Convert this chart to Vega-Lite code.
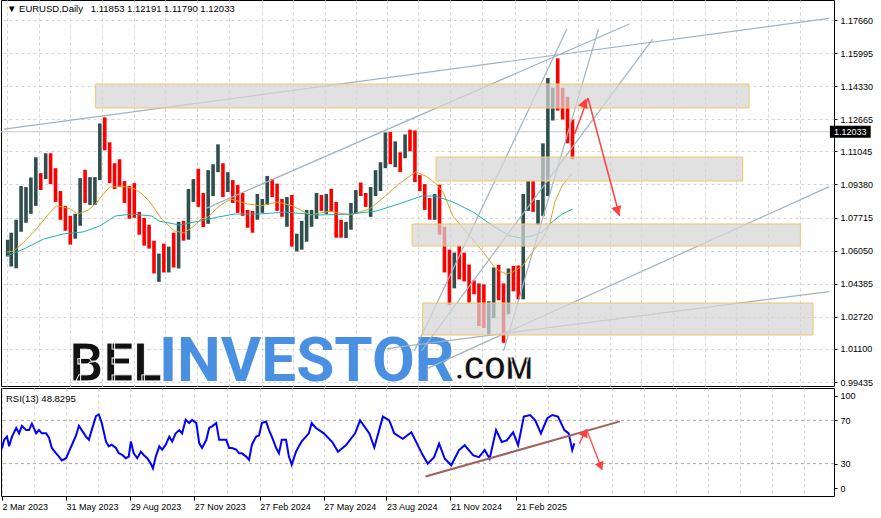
{
"$schema":"https://vega.github.io/schema/vega-lite/v6.json",
"background":"white",
"padding":{"left":-3,"top":-1,"right":0,"bottom":0},
"bounds":"flush",
"spacing":2,
"config":{"view":{"stroke":"#000000","strokeWidth":1},"axis":{"labelFont":"Liberation Sans","labelFontSize":9,"labelColor":"#000000","tickColor":"#000000","domainColor":"#000000","labelOverlap":false,"tickCount":60}},
"datasets":{
"one":[{}],
"candles":[
{"date":"2023-03-03","open":1.0600,"high":1.0660,"low":1.0575,"close":1.0635},
{"date":"2023-03-08","open":1.0635,"high":1.0695,"low":1.0525,"close":1.0640},
{"date":"2023-03-15","open":1.0650,"high":1.0760,"low":1.0516,"close":1.0670},
{"date":"2023-03-22","open":1.0715,"high":1.0930,"low":1.0700,"close":1.0760},
{"date":"2023-03-29","open":1.0760,"high":1.0925,"low":1.0745,"close":1.0840},
{"date":"2023-04-05","open":1.0840,"high":1.0973,"low":1.0790,"close":1.0900},
{"date":"2023-04-12","open":1.0900,"high":1.1075,"low":1.0830,"close":1.0990},
{"date":"2023-04-19","open":1.0990,"high":1.0995,"low":1.0910,"close":1.0985},
{"date":"2023-04-26","open":1.0985,"high":1.1095,"low":1.0965,"close":1.1020},
{"date":"2023-05-03","open":1.1020,"high":1.1095,"low":1.0940,"close":1.1018},
{"date":"2023-05-10","open":1.1018,"high":1.1020,"low":1.0850,"close":1.0850},
{"date":"2023-05-17","open":1.0850,"high":1.0905,"low":1.0760,"close":1.0805},
{"date":"2023-05-24","open":1.0805,"high":1.0830,"low":1.0705,"close":1.0720},
{"date":"2023-05-31","open":1.0720,"high":1.0780,"low":1.0635,"close":1.0710},
{"date":"2023-06-07","open":1.0710,"high":1.0790,"low":1.0665,"close":1.0750},
{"date":"2023-06-14","open":1.0750,"high":1.0970,"low":1.0730,"close":1.0940},
{"date":"2023-06-21","open":1.0940,"high":1.1012,"low":1.0845,"close":1.0895},
{"date":"2023-06-28","open":1.0895,"high":1.0975,"low":1.0835,"close":1.0910},
{"date":"2023-07-05","open":1.0910,"high":1.0975,"low":1.0835,"close":1.0965},
{"date":"2023-07-12","open":1.0965,"high":1.1245,"low":1.0960,"close":1.1230},
{"date":"2023-07-19","open":1.1230,"high":1.1276,"low":1.1110,"close":1.1125},
{"date":"2023-07-26","open":1.1125,"high":1.1150,"low":1.0945,"close":1.1015},
{"date":"2023-08-02","open":1.1015,"high":1.1045,"low":1.0915,"close":1.1005},
{"date":"2023-08-09","open":1.1005,"high":1.1065,"low":1.0925,"close":1.0945},
{"date":"2023-08-16","open":1.0945,"high":1.0955,"low":1.0845,"close":1.0870},
{"date":"2023-08-23","open":1.0870,"high":1.0930,"low":1.0765,"close":1.0795},
{"date":"2023-08-30","open":1.0795,"high":1.0945,"low":1.0770,"close":1.0775},
{"date":"2023-09-06","open":1.0775,"high":1.0800,"low":1.0685,"close":1.0700},
{"date":"2023-09-13","open":1.0700,"high":1.0770,"low":1.0630,"close":1.0660},
{"date":"2023-09-20","open":1.0660,"high":1.0735,"low":1.0615,"close":1.0650},
{"date":"2023-09-27","open":1.0650,"high":1.0655,"low":1.0490,"close":1.0570},
{"date":"2023-10-04","open":1.0570,"high":1.0590,"low":1.0448,"close":1.0585},
{"date":"2023-10-11","open":1.0585,"high":1.0640,"low":1.0495,"close":1.0510},
{"date":"2023-10-18","open":1.0510,"high":1.0625,"low":1.0495,"close":1.0595},
{"date":"2023-10-25","open":1.0595,"high":1.0695,"low":1.0520,"close":1.0565},
{"date":"2023-11-01","open":1.0565,"high":1.0750,"low":1.0515,"close":1.0730},
{"date":"2023-11-08","open":1.0730,"high":1.0755,"low":1.0655,"close":1.0685},
{"date":"2023-11-15","open":1.0685,"high":1.0915,"low":1.0660,"close":1.0910},
{"date":"2023-11-22","open":1.0910,"high":1.0965,"low":1.0850,"close":1.0940},
{"date":"2023-11-29","open":1.0940,"high":1.1017,"low":1.0825,"close":1.0835},
{"date":"2023-12-06","open":1.0835,"high":1.0895,"low":1.0724,"close":1.0760},
{"date":"2023-12-13","open":1.0760,"high":1.1010,"low":1.0740,"close":1.0895},
{"date":"2023-12-20","open":1.0895,"high":1.1040,"low":1.0880,"close":1.1010},
{"date":"2023-12-27","open":1.1010,"high":1.1140,"low":1.1000,"close":1.1040},
{"date":"2024-01-03","open":1.1040,"high":1.1045,"low":1.0875,"close":1.0940},
{"date":"2024-01-10","open":1.0940,"high":1.1000,"low":1.0900,"close":1.0950},
{"date":"2024-01-17","open":1.0950,"high":1.0960,"low":1.0845,"close":1.0895},
{"date":"2024-01-24","open":1.0895,"high":1.0935,"low":1.0795,"close":1.0850},
{"date":"2024-01-31","open":1.0850,"high":1.0895,"low":1.0780,"close":1.0785},
{"date":"2024-02-07","open":1.0785,"high":1.0810,"low":1.0720,"close":1.0783},
{"date":"2024-02-14","open":1.0783,"high":1.0805,"low":1.0695,"close":1.0775},
{"date":"2024-02-21","open":1.0775,"high":1.0890,"low":1.0760,"close":1.0820},
{"date":"2024-02-28","open":1.0820,"high":1.0865,"low":1.0795,"close":1.0840},
{"date":"2024-03-06","open":1.0840,"high":1.0981,"low":1.0835,"close":1.0940},
{"date":"2024-03-13","open":1.0940,"high":1.0965,"low":1.0875,"close":1.0890},
{"date":"2024-03-20","open":1.0890,"high":1.0942,"low":1.0805,"close":1.0810},
{"date":"2024-03-27","open":1.0810,"high":1.0865,"low":1.0775,"close":1.0790},
{"date":"2024-04-03","open":1.0790,"high":1.0875,"low":1.0725,"close":1.0835},
{"date":"2024-04-10","open":1.0835,"high":1.0885,"low":1.0625,"close":1.0645},
{"date":"2024-04-17","open":1.0645,"high":1.0690,"low":1.0601,"close":1.0655},
{"date":"2024-04-24","open":1.0655,"high":1.0755,"low":1.0610,"close":1.0690},
{"date":"2024-05-01","open":1.0690,"high":1.0810,"low":1.0650,"close":1.0760},
{"date":"2024-05-08","open":1.0760,"high":1.0810,"low":1.0725,"close":1.0770},
{"date":"2024-05-15","open":1.0770,"high":1.0895,"low":1.0765,"close":1.0870},
{"date":"2024-05-22","open":1.0870,"high":1.0885,"low":1.0805,"close":1.0845},
{"date":"2024-05-29","open":1.0845,"high":1.0890,"low":1.0790,"close":1.0850},
{"date":"2024-06-05","open":1.0850,"high":1.0916,"low":1.0800,"close":1.0800},
{"date":"2024-06-12","open":1.0800,"high":1.0850,"low":1.0670,"close":1.0700},
{"date":"2024-06-19","open":1.0700,"high":1.0760,"low":1.0670,"close":1.0690},
{"date":"2024-06-26","open":1.0690,"high":1.0750,"low":1.0668,"close":1.0715},
{"date":"2024-07-03","open":1.0715,"high":1.0845,"low":1.0710,"close":1.0840},
{"date":"2024-07-10","open":1.0840,"high":1.0910,"low":1.0790,"close":1.0905},
{"date":"2024-07-17","open":1.0905,"high":1.0948,"low":1.0880,"close":1.0885},
{"date":"2024-07-24","open":1.0885,"high":1.0895,"low":1.0825,"close":1.0855},
{"date":"2024-07-31","open":1.0855,"high":1.0925,"low":1.0775,"close":1.0910},
{"date":"2024-08-07","open":1.0910,"high":1.1010,"low":1.0880,"close":1.0915},
{"date":"2024-08-14","open":1.0915,"high":1.1050,"low":1.0905,"close":1.1025},
{"date":"2024-08-21","open":1.1025,"high":1.1200,"low":1.1020,"close":1.1190},
{"date":"2024-08-28","open":1.1190,"high":1.1202,"low":1.1040,"close":1.1050},
{"date":"2024-09-04","open":1.1050,"high":1.1155,"low":1.1025,"close":1.1085},
{"date":"2024-09-11","open":1.1085,"high":1.1100,"low":1.1000,"close":1.1075},
{"date":"2024-09-18","open":1.1075,"high":1.1190,"low":1.1070,"close":1.1165},
{"date":"2024-09-25","open":1.1165,"high":1.1214,"low":1.1105,"close":1.1163},
{"date":"2024-10-02","open":1.1163,"high":1.1210,"low":1.0950,"close":1.0975},
{"date":"2024-10-09","open":1.0975,"high":1.0985,"low":1.0905,"close":1.0935},
{"date":"2024-10-16","open":1.0935,"high":1.0940,"low":1.0810,"close":1.0865},
{"date":"2024-10-23","open":1.0865,"high":1.0870,"low":1.0761,"close":1.0795},
{"date":"2024-10-30","open":1.0795,"high":1.0890,"low":1.0760,"close":1.0835},
{"date":"2024-11-06","open":1.0835,"high":1.0937,"low":1.0685,"close":1.0720},
{"date":"2024-11-13","open":1.0720,"high":1.0725,"low":1.0495,"close":1.0540},
{"date":"2024-11-20","open":1.0540,"high":1.0610,"low":1.0332,"close":1.0420},
{"date":"2024-11-27","open":1.0420,"high":1.0595,"low":1.0415,"close":1.0575},
{"date":"2024-12-04","open":1.0575,"high":1.0630,"low":1.0460,"close":1.0565},
{"date":"2024-12-11","open":1.0565,"high":1.0595,"low":1.0450,"close":1.0500},
{"date":"2024-12-18","open":1.0500,"high":1.0535,"low":1.0343,"close":1.0430},
{"date":"2024-12-25","open":1.0430,"high":1.0455,"low":1.0385,"close":1.0425},
{"date":"2025-01-01","open":1.0425,"high":1.0440,"low":1.0225,"close":1.0310},
{"date":"2025-01-08","open":1.0310,"high":1.0435,"low":1.0215,"close":1.0245},
{"date":"2025-01-15","open":1.0245,"high":1.0350,"low":1.0178,"close":1.0275},
{"date":"2025-01-22","open":1.0275,"high":1.0520,"low":1.0265,"close":1.0495},
{"date":"2025-01-29","open":1.0495,"high":1.0533,"low":1.0355,"close":1.0360},
{"date":"2025-02-05","open":1.0360,"high":1.0440,"low":1.0141,"close":1.0330},
{"date":"2025-02-12","open":1.0330,"high":1.0515,"low":1.0285,"close":1.0495},
{"date":"2025-02-19","open":1.0495,"high":1.0528,"low":1.0400,"close":1.0460},
{"date":"2025-02-26","open":1.0460,"high":1.0530,"low":1.0360,"close":1.0375},
{"date":"2025-03-05","open":1.0375,"high":1.0890,"low":1.0360,"close":1.0830},
{"date":"2025-03-12","open":1.0830,"high":1.0955,"low":1.0805,"close":1.0880},
{"date":"2025-03-19","open":1.0880,"high":1.0955,"low":1.0800,"close":1.0815},
{"date":"2025-03-26","open":1.0815,"high":1.0860,"low":1.0733,"close":1.0820},
{"date":"2025-04-02","open":1.0820,"high":1.1145,"low":1.0780,"close":1.0960},
{"date":"2025-04-09","open":1.0960,"high":1.1474,"low":1.0880,"close":1.1360},
{"date":"2025-04-16","open":1.1360,"high":1.1425,"low":1.1260,"close":1.1390},
{"date":"2025-04-23","open":1.1390,"high":1.1573,"low":1.1310,"close":1.1365},
{"date":"2025-04-30","open":1.1365,"high":1.1425,"low":1.1265,"close":1.1300},
{"date":"2025-05-07","open":1.1300,"high":1.1380,"low":1.1145,"close":1.1250},
{"date":"2025-05-14","open":1.1250,"high":1.1265,"low":1.1065,"close":1.1203}
],
"ma":[
{"series":"fast","date":"2023-03-02","value":1.0598},{"series":"fast","date":"2023-03-12","value":1.0603},{"series":"fast","date":"2023-03-26","value":1.0648},{"series":"fast","date":"2023-04-13","value":1.0714},{"series":"fast","date":"2023-04-30","value":1.0789},{"series":"fast","date":"2023-05-11","value":1.0830},{"series":"fast","date":"2023-05-21","value":1.0825},{"series":"fast","date":"2023-05-31","value":1.0814},{"series":"fast","date":"2023-06-11","value":1.0789},{"series":"fast","date":"2023-06-25","value":1.0809},{"series":"fast","date":"2023-07-06","value":1.0840},{"series":"fast","date":"2023-07-16","value":1.0885},{"series":"fast","date":"2023-07-26","value":1.0925},{"series":"fast","date":"2023-08-13","value":1.0930},{"series":"fast","date":"2023-08-31","value":1.0915},{"series":"fast","date":"2023-09-10","value":1.0890},{"series":"fast","date":"2023-09-20","value":1.0855},{"series":"fast","date":"2023-10-08","value":1.0764},{"series":"fast","date":"2023-10-26","value":1.0704},{"series":"fast","date":"2023-11-09","value":1.0694},{"series":"fast","date":"2023-11-23","value":1.0729},{"series":"fast","date":"2023-12-03","value":1.0764},{"series":"fast","date":"2023-12-13","value":1.0774},{"series":"fast","date":"2023-12-27","value":1.0825},{"series":"fast","date":"2024-01-14","value":1.0865},{"series":"fast","date":"2024-02-07","value":1.0840},{"series":"fast","date":"2024-02-26","value":1.0830},{"series":"fast","date":"2024-03-20","value":1.0850},{"series":"fast","date":"2024-04-11","value":1.0830},{"series":"fast","date":"2024-05-06","value":1.0784},{"series":"fast","date":"2024-06-03","value":1.0804},{"series":"fast","date":"2024-07-01","value":1.0784},{"series":"fast","date":"2024-07-29","value":1.0814},{"series":"fast","date":"2024-08-16","value":1.0865},{"series":"fast","date":"2024-09-09","value":1.0940},{"series":"fast","date":"2024-10-03","value":1.1001},{"series":"fast","date":"2024-10-17","value":1.0981},{"series":"fast","date":"2024-10-31","value":1.0945},{"series":"fast","date":"2024-11-11","value":1.0900},{"series":"fast","date":"2024-11-25","value":1.0779},{"series":"fast","date":"2024-12-14","value":1.0699},{"series":"fast","date":"2025-01-07","value":1.0598},{"series":"fast","date":"2025-01-25","value":1.0513},{"series":"fast","date":"2025-02-08","value":1.0487},{"series":"fast","date":"2025-02-18","value":1.0497},{"series":"fast","date":"2025-03-04","value":1.0528},{"series":"fast","date":"2025-03-18","value":1.0598},{"series":"fast","date":"2025-04-01","value":1.0663},{"series":"fast","date":"2025-04-11","value":1.0729},{"series":"fast","date":"2025-04-19","value":1.0850},{"series":"fast","date":"2025-04-29","value":1.0930},{"series":"fast","date":"2025-05-09","value":1.0976},{"series":"fast","date":"2025-05-14","value":1.0991},
{"series":"slow","date":"2023-03-02","value":1.0578},{"series":"slow","date":"2023-03-26","value":1.0613},{"series":"slow","date":"2023-04-23","value":1.0663},{"series":"slow","date":"2023-05-21","value":1.0689},{"series":"slow","date":"2023-06-18","value":1.0699},{"series":"slow","date":"2023-07-12","value":1.0729},{"series":"slow","date":"2023-08-03","value":1.0779},{"series":"slow","date":"2023-08-27","value":1.0789},{"series":"slow","date":"2023-09-24","value":1.0779},{"series":"slow","date":"2023-10-04","value":1.0754},{"series":"slow","date":"2023-11-02","value":1.0734},{"series":"slow","date":"2023-12-01","value":1.0754},{"series":"slow","date":"2023-12-27","value":1.0774},{"series":"slow","date":"2024-01-19","value":1.0789},{"series":"slow","date":"2024-02-23","value":1.0789},{"series":"slow","date":"2024-04-01","value":1.0799},{"series":"slow","date":"2024-05-16","value":1.0784},{"series":"slow","date":"2024-07-01","value":1.0789},{"series":"slow","date":"2024-08-08","value":1.0804},{"series":"slow","date":"2024-09-09","value":1.0840},{"series":"slow","date":"2024-10-12","value":1.0880},{"series":"slow","date":"2024-10-31","value":1.0880},{"series":"slow","date":"2024-11-25","value":1.0850},{"series":"slow","date":"2024-12-24","value":1.0799},{"series":"slow","date":"2025-01-21","value":1.0729},{"series":"slow","date":"2025-02-14","value":1.0679},{"series":"slow","date":"2025-03-01","value":1.0669},{"series":"slow","date":"2025-03-18","value":1.0679},{"series":"slow","date":"2025-04-01","value":1.0699},{"series":"slow","date":"2025-04-15","value":1.0749},{"series":"slow","date":"2025-04-29","value":1.0789},{"series":"slow","date":"2025-05-14","value":1.0814}
],
"zones":[
{"start":"2023-07-06","end":"2026-01-20","top":1.14438,"bottom":1.13230},
{"start":"2024-11-01","end":"2026-01-11","top":1.10763,"bottom":1.09554},
{"start":"2024-09-28","end":"2026-04-03","top":1.07390,"bottom":1.06282},
{"start":"2024-10-13","end":"2026-04-21","top":1.03412,"bottom":1.01801}
],
"trendlines":[
{"date":"2023-02-26","price":1.1217,"date2":"2026-05-14","price2":1.1774},
{"date":"2023-12-11","price":1.0819,"date2":"2025-08-03","price2":1.1746},
{"date":"2024-08-23","price":1.0112,"date2":"2026-05-14","price2":1.0399},
{"date":"2024-10-19","price":1.0011,"date2":"2026-05-14","price2":1.0927},
{"date":"2024-10-01","price":1.0100,"date2":"2025-05-06","price2":1.1721},
{"date":"2025-02-05","price":1.0100,"date2":"2025-06-20","price2":1.1721},
{"date":"2024-10-11","price":1.0100,"date2":"2025-09-05","price2":1.1670}
],
"arrows":[
{"date":"2025-05-17","price":1.1192,"date2":"2025-06-05","price2":1.1373},
{"date":"2025-06-05","price":1.1373,"date2":"2025-07-20","price2":1.0779}
],
"rsi":[
{"date":"2023-03-02","value":44},{"date":"2023-03-05","value":52},{"date":"2023-03-09","value":55},{"date":"2023-03-12","value":46},{"date":"2023-03-16","value":55},{"date":"2023-03-22","value":63},{"date":"2023-03-26","value":58},{"date":"2023-03-30","value":65},{"date":"2023-04-05","value":61},{"date":"2023-04-09","value":61},{"date":"2023-04-13","value":67},{"date":"2023-04-19","value":58},{"date":"2023-04-23","value":61},{"date":"2023-04-27","value":58},{"date":"2023-05-03","value":58},{"date":"2023-05-07","value":54},{"date":"2023-05-11","value":44.5},{"date":"2023-05-17","value":39.5},{"date":"2023-05-21","value":36.5},{"date":"2023-05-25","value":33},{"date":"2023-05-31","value":35},{"date":"2023-06-04","value":41},{"date":"2023-06-08","value":47},{"date":"2023-06-14","value":56},{"date":"2023-06-18","value":65},{"date":"2023-06-22","value":61},{"date":"2023-06-28","value":55},{"date":"2023-07-02","value":52},{"date":"2023-07-06","value":61},{"date":"2023-07-12","value":74},{"date":"2023-07-16","value":75.5},{"date":"2023-07-20","value":68},{"date":"2023-07-26","value":50.5},{"date":"2023-07-30","value":46},{"date":"2023-08-03","value":47.5},{"date":"2023-08-09","value":44.5},{"date":"2023-08-13","value":39.5},{"date":"2023-08-18","value":38},{"date":"2023-08-23","value":35},{"date":"2023-08-27","value":36.5},{"date":"2023-08-30","value":50.5},{"date":"2023-09-03","value":39.5},{"date":"2023-09-08","value":35},{"date":"2023-09-13","value":41},{"date":"2023-09-17","value":38},{"date":"2023-09-22","value":35},{"date":"2023-09-27","value":30},{"date":"2023-09-30","value":25.5},{"date":"2023-10-04","value":36.5},{"date":"2023-10-09","value":46},{"date":"2023-10-13","value":43},{"date":"2023-10-18","value":47.5},{"date":"2023-10-23","value":55},{"date":"2023-10-27","value":50.5},{"date":"2023-11-01","value":58},{"date":"2023-11-06","value":61},{"date":"2023-11-10","value":58},{"date":"2023-11-15","value":70.5},{"date":"2023-11-20","value":67.5},{"date":"2023-11-24","value":70.5},{"date":"2023-11-30","value":67.5},{"date":"2023-12-04","value":49},{"date":"2023-12-08","value":44.5},{"date":"2023-12-14","value":52},{"date":"2023-12-18","value":63},{"date":"2023-12-22","value":64.5},{"date":"2023-12-28","value":67.5},{"date":"2024-01-01","value":52},{"date":"2024-01-05","value":52},{"date":"2024-01-11","value":52},{"date":"2024-01-15","value":44.5},{"date":"2024-01-19","value":44.5},{"date":"2024-01-25","value":43},{"date":"2024-01-29","value":39.5},{"date":"2024-02-02","value":39.5},{"date":"2024-02-08","value":36.5},{"date":"2024-02-12","value":33.5},{"date":"2024-02-16","value":47.5},{"date":"2024-02-22","value":55},{"date":"2024-02-26","value":56},{"date":"2024-03-01","value":67.5},{"date":"2024-03-07","value":69},{"date":"2024-03-11","value":61},{"date":"2024-03-15","value":55},{"date":"2024-03-21","value":44.5},{"date":"2024-03-25","value":39.5},{"date":"2024-03-29","value":52},{"date":"2024-04-04","value":52},{"date":"2024-04-08","value":36.5},{"date":"2024-04-12","value":29},{"date":"2024-04-18","value":41},{"date":"2024-04-22","value":46},{"date":"2024-04-26","value":50.5},{"date":"2024-05-02","value":55},{"date":"2024-05-06","value":58},{"date":"2024-05-10","value":67.5},{"date":"2024-05-16","value":63},{"date":"2024-05-27","value":58},{"date":"2024-06-08","value":50},{"date":"2024-06-16","value":41},{"date":"2024-06-27","value":47},{"date":"2024-07-10","value":58},{"date":"2024-07-17","value":70},{"date":"2024-07-30","value":58},{"date":"2024-08-06","value":45},{"date":"2024-08-18","value":73.5},{"date":"2024-08-27","value":70},{"date":"2024-09-03","value":58},{"date":"2024-09-15","value":53},{"date":"2024-09-27","value":59},{"date":"2024-10-05","value":48.5},{"date":"2024-10-12","value":39},{"date":"2024-10-20","value":30},{"date":"2024-10-29","value":36},{"date":"2024-11-05","value":48.5},{"date":"2024-11-13","value":34.5},{"date":"2024-11-22","value":28.5},{"date":"2024-12-03","value":42.5},{"date":"2024-12-11","value":47},{"date":"2024-12-23","value":37.6},{"date":"2024-12-31","value":36},{"date":"2025-01-08","value":42.5},{"date":"2025-01-15","value":34.5},{"date":"2025-01-24","value":61},{"date":"2025-02-01","value":50},{"date":"2025-02-08","value":51.5},{"date":"2025-02-17","value":59},{"date":"2025-02-24","value":47},{"date":"2025-03-04","value":73.5},{"date":"2025-03-13","value":75},{"date":"2025-03-20","value":70},{"date":"2025-03-28","value":58},{"date":"2025-04-06","value":72},{"date":"2025-04-13","value":75},{"date":"2025-04-21","value":73.5},{"date":"2025-04-30","value":61},{"date":"2025-05-06","value":58},{"date":"2025-05-11","value":42.5},{"date":"2025-05-14","value":48.8}
],
"rsiline":[{"date":"2024-10-17","value":18,"date2":"2025-07-17","value2":69.1}],
"rsiarrows":[
{"date":"2025-05-21","value":48.6,"date2":"2025-05-31","value2":61.7},
{"date":"2025-05-31","value":61.7,"date2":"2025-06-22","value2":24.3}
]
},
"vconcat":[
{
"width":833,"height":386,
"layer":[
{"data":{"name":"one"},
 "mark":{"type":"rule","color":"#C8C8C8","strokeWidth":1},
 "encoding":{"y":{"datum":1.12033,"type":"quantitative","scale":{"domain":[0.99234,1.18667],"zero":false,"nice":false}}}},
{"data":{"name":"one"},
 "mark":{"type":"text","text":"INVESTOR","font":"Liberation Sans Narrow, Roboto","fontWeight":"bold","fontSize":62,"color":"#4A90E2","align":"left","baseline":"alphabetic"},
 "encoding":{"x":{"datum":{"year":2023,"month":10,"date":4,"utc":true},"type":"temporal","scale":{"type":"utc","domain":[{"year":2023,"month":2,"date":28,"hours":14,"utc":true},{"year":2026,"month":5,"date":13,"hours":17,"utc":true}]}},
  "y":{"datum":0.99486,"type":"quantitative","scale":{"domain":[0.99234,1.18667],"zero":false,"nice":false}}}},
{"data":{"name":"one"},
 "mark":{"type":"text","text":"BEL","font":"Liberation Sans Narrow, Roboto","fontWeight":"bold","fontSize":53,"color":"#111111","stroke":"#FFFFFF","strokeWidth":0.9,"align":"left","baseline":"alphabetic"},
 "encoding":{"x":{"datum":{"year":2023,"month":5,"date":30,"utc":true},"type":"temporal","scale":{"type":"utc","domain":[{"year":2023,"month":2,"date":28,"hours":14,"utc":true},{"year":2026,"month":5,"date":13,"hours":17,"utc":true}]}},
  "y":{"datum":0.99486,"type":"quantitative","scale":{"domain":[0.99234,1.18667],"zero":false,"nice":false}}}},
{"data":{"name":"one"},
 "mark":{"type":"text","text":".COM","font":"Liberation Sans Narrow, Roboto","fontWeight":"bold","fontSize":31,"color":"#111111","stroke":"#FFFFFF","strokeWidth":0.7,"align":"left","baseline":"alphabetic"},
 "encoding":{"x":{"datum":{"year":2024,"month":11,"date":28,"utc":true},"type":"temporal","scale":{"type":"utc","domain":[{"year":2023,"month":2,"date":28,"hours":14,"utc":true},{"year":2026,"month":5,"date":13,"hours":17,"utc":true}]}},
  "y":{"datum":0.99586,"type":"quantitative","scale":{"domain":[0.99234,1.18667],"zero":false,"nice":false}}}},
{"data":{"name":"candles"},
 "mark":{"type":"bar","size":3.6},
 "encoding":{
  "x":{"field":"date","type":"temporal","scale":{"type":"utc","domain":[{"year":2023,"month":2,"date":28,"hours":14,"utc":true},{"year":2026,"month":5,"date":13,"hours":17,"utc":true}]},
   "axis":{"title":null,"labels":false,"ticks":false,"domain":false,"grid":true,"gridDash":[3,3],"gridColor":"#D4D4D4","tickCount":60,
    "values":[{"year":2023,"month":3,"date":2,"utc":true},{"year":2023,"month":4,"date":16,"utc":true},{"year":2023,"month":5,"date":31,"utc":true},{"year":2023,"month":7,"date":15,"utc":true},{"year":2023,"month":8,"date":29,"utc":true},{"year":2023,"month":10,"date":13,"utc":true},{"year":2023,"month":11,"date":27,"utc":true},{"year":2024,"month":1,"date":12,"utc":true},{"year":2024,"month":2,"date":27,"utc":true},{"year":2024,"month":4,"date":12,"utc":true},{"year":2024,"month":5,"date":27,"utc":true},{"year":2024,"month":7,"date":10,"utc":true},{"year":2024,"month":8,"date":23,"utc":true},{"year":2024,"month":10,"date":7,"utc":true},{"year":2024,"month":11,"date":21,"utc":true},{"year":2025,"month":1,"date":6,"utc":true},{"year":2025,"month":2,"date":21,"utc":true},{"year":2025,"month":4,"date":7,"utc":true},{"year":2025,"month":5,"date":22,"utc":true},{"year":2025,"month":7,"date":6,"utc":true},{"year":2025,"month":8,"date":20,"utc":true},{"year":2025,"month":10,"date":4,"utc":true},{"year":2025,"month":11,"date":18,"utc":true},{"year":2026,"month":1,"date":2,"utc":true},{"year":2026,"month":2,"date":16,"utc":true},{"year":2026,"month":4,"date":2,"utc":true}]}},
  "y":{"field":"low","type":"quantitative","scale":{"domain":[0.99234,1.18667],"zero":false,"nice":false},
   "axis":{"orient":"right","title":null,"tickCount":60,"values":[1.1766,1.15995,1.1433,1.12665,1.11045,1.0938,1.07715,1.0605,1.04385,1.0272,1.011,0.99435],"labelExpr":"format(datum.value, '.5f')","grid":true,"gridDash":[3,3],"gridColor":"#D4D4D4","tickSize":3,"domain":false,"labelPadding":3,"labelOverlap":false,"labelBound":false}},
  "y2":{"field":"high"},
  "color":{"condition":{"test":"datum.close >= datum.open","value":"#2F4F4F"},"value":"#FF0000"}}},
{"data":{"name":"ma"},
 "mark":{"type":"line","strokeWidth":1},
 "encoding":{
  "x":{"field":"date","type":"temporal","title":null,"scale":{"type":"utc","domain":[{"year":2023,"month":2,"date":28,"hours":14,"utc":true},{"year":2026,"month":5,"date":13,"hours":17,"utc":true}]}},
  "y":{"field":"value","type":"quantitative","title":null,"scale":{"domain":[0.99234,1.18667],"zero":false,"nice":false}},
  "color":{"field":"series","type":"nominal","scale":{"domain":["fast","slow"],"range":["#DAA520","#20B2AA"]},"legend":null}}},
{"data":{"name":"trendlines"},
 "mark":{"type":"rule","color":"#9FB3C2","strokeWidth":1.2,"clip":true},
 "encoding":{
  "x":{"field":"date","type":"temporal","title":null,"scale":{"type":"utc","domain":[{"year":2023,"month":2,"date":28,"hours":14,"utc":true},{"year":2026,"month":5,"date":13,"hours":17,"utc":true}]}},
  "x2":{"field":"date2"},
  "y":{"field":"price","type":"quantitative","title":null,"scale":{"domain":[0.99234,1.18667],"zero":false,"nice":false}},
  "y2":{"field":"price2"}}},
{"data":{"name":"zones"},
 "mark":{"type":"rect","fill":"#D6D6D6","fillOpacity":0.72,"stroke":"#F2C46D","strokeWidth":1},
 "encoding":{
  "x":{"field":"start","type":"temporal","title":null,"scale":{"type":"utc","domain":[{"year":2023,"month":2,"date":28,"hours":14,"utc":true},{"year":2026,"month":5,"date":13,"hours":17,"utc":true}]}},
  "x2":{"field":"end"},
  "y":{"field":"top","type":"quantitative","title":null,"scale":{"domain":[0.99234,1.18667],"zero":false,"nice":false}},
  "y2":{"field":"bottom"}}},
{"data":{"name":"arrows"},
 "mark":{"type":"rule","color":"#FF4040","strokeWidth":1.5},
 "encoding":{
  "x":{"field":"date","type":"temporal","title":null,"scale":{"type":"utc","domain":[{"year":2023,"month":2,"date":28,"hours":14,"utc":true},{"year":2026,"month":5,"date":13,"hours":17,"utc":true}]}},
  "x2":{"field":"date2"},
  "y":{"field":"price","type":"quantitative","title":null,"scale":{"domain":[0.99234,1.18667],"zero":false,"nice":false}},
  "y2":{"field":"price2"}}},
{"data":{"name":"one"},
 "mark":{"type":"point","shape":"triangle-up","filled":true,"size":110,"angle":20,"color":"#FF4040","opacity":1},
 "encoding":{"x":{"datum":{"year":2025,"month":5,"date":31,"utc":true},"type":"temporal","scale":{"type":"utc","domain":[{"year":2023,"month":2,"date":28,"hours":14,"utc":true},{"year":2026,"month":5,"date":13,"hours":17,"utc":true}]}},
  "y":{"datum":1.1348,"type":"quantitative","scale":{"domain":[0.99234,1.18667],"zero":false,"nice":false}}}},
{"data":{"name":"one"},
 "mark":{"type":"point","shape":"triangle-up","filled":true,"size":110,"angle":165,"color":"#FF4040","opacity":1},
 "encoding":{"x":{"datum":{"year":2025,"month":7,"date":17,"utc":true},"type":"temporal","scale":{"type":"utc","domain":[{"year":2023,"month":2,"date":28,"hours":14,"utc":true},{"year":2026,"month":5,"date":13,"hours":17,"utc":true}]}},
  "y":{"datum":1.0804,"type":"quantitative","scale":{"domain":[0.99234,1.18667],"zero":false,"nice":false}}}},
{"data":{"name":"one"},
 "mark":{"type":"text","text":"▼ EURUSD,Daily\u00a0\u00a0 1.11853 1.12191 1.11790 1.12033","font":"Liberation Sans, DejaVu Sans","fontSize":9.5,"color":"#000000","align":"left","baseline":"alphabetic","dx":1},
 "encoding":{"x":{"datum":{"year":2023,"month":2,"date":28,"hours":14,"utc":true},"type":"temporal","scale":{"type":"utc","domain":[{"year":2023,"month":2,"date":28,"hours":14,"utc":true},{"year":2026,"month":5,"date":13,"hours":17,"utc":true}]}},
  "y":{"datum":1.1806,"type":"quantitative","scale":{"domain":[0.99234,1.18667],"zero":false,"nice":false}}}},
{"data":{"name":"one"},
 "mark":{"type":"rect","color":"#000000"},
 "encoding":{"x":{"datum":{"year":2026,"month":5,"date":15,"utc":true},"type":"temporal","scale":{"type":"utc","domain":[{"year":2023,"month":2,"date":28,"hours":14,"utc":true},{"year":2026,"month":5,"date":13,"hours":17,"utc":true}]}},
  "x2":{"datum":{"year":2026,"month":7,"date":12,"utc":true}},
  "y":{"datum":1.12330,"type":"quantitative","scale":{"domain":[0.99234,1.18667],"zero":false,"nice":false}},
  "y2":{"datum":1.11730}}},
{"data":{"name":"one"},
 "mark":{"type":"text","text":"1.12033","font":"Liberation Sans","fontSize":9,"color":"#FFFFFF","align":"center","baseline":"middle"},
 "encoding":{"x":{"datum":{"year":2026,"month":6,"date":13,"utc":true},"type":"temporal","scale":{"type":"utc","domain":[{"year":2023,"month":2,"date":28,"hours":14,"utc":true},{"year":2026,"month":5,"date":13,"hours":17,"utc":true}]}},
  "y":{"datum":1.12033,"type":"quantitative","scale":{"domain":[0.99234,1.18667],"zero":false,"nice":false}}}}
]
},
{
"width":833,"height":108,
"layer":[
{"data":{"name":"one"},
 "mark":{"type":"rule","color":"#A8A8A8","strokeDash":[3,3],"strokeWidth":1},
 "encoding":{"y":{"datum":70,"type":"quantitative","scale":{"domain":[0,100],"nice":false}}}},
{"data":{"name":"one"},
 "mark":{"type":"rule","color":"#A8A8A8","strokeDash":[3,3],"strokeWidth":1},
 "encoding":{"y":{"datum":30,"type":"quantitative","scale":{"domain":[0,100],"nice":false}}}},
{"data":{"name":"rsi"},
 "mark":{"type":"line","color":"#0000FF","strokeWidth":2},
 "encoding":{
  "x":{"field":"date","type":"temporal","scale":{"type":"utc","domain":[{"year":2023,"month":2,"date":28,"hours":14,"utc":true},{"year":2026,"month":5,"date":13,"hours":17,"utc":true}]},
   "axis":{"title":null,"tickCount":60,"labelAlign":"left","labelPadding":2,"labelFlush":false,"labelOverlap":false,"labelBound":false,"tickSize":4,"domain":false,"grid":true,"gridDash":[3,3],"gridColor":"#D4D4D4",
    "labelExpr":"indexof(['2 Mar 2023','31 May 2023','29 Aug 2023','27 Nov 2023','27 Feb 2024','27 May 2024','23 Aug 2024','21 Nov 2024','21 Feb 2025'], utcFormat(datum.value, '%-d %b %Y')) >= 0 ? utcFormat(datum.value, '%-d %b %Y') : ''",
    "tickOpacity":{"condition":{"test":"indexof(['2 Mar 2023','31 May 2023','29 Aug 2023','27 Nov 2023','27 Feb 2024','27 May 2024','23 Aug 2024','21 Nov 2024','21 Feb 2025'], utcFormat(datum.value, '%-d %b %Y')) >= 0","value":1},"value":0},
    "values":[{"year":2023,"month":3,"date":2,"utc":true},{"year":2023,"month":4,"date":16,"utc":true},{"year":2023,"month":5,"date":31,"utc":true},{"year":2023,"month":7,"date":15,"utc":true},{"year":2023,"month":8,"date":29,"utc":true},{"year":2023,"month":10,"date":13,"utc":true},{"year":2023,"month":11,"date":27,"utc":true},{"year":2024,"month":1,"date":12,"utc":true},{"year":2024,"month":2,"date":27,"utc":true},{"year":2024,"month":4,"date":12,"utc":true},{"year":2024,"month":5,"date":27,"utc":true},{"year":2024,"month":7,"date":10,"utc":true},{"year":2024,"month":8,"date":23,"utc":true},{"year":2024,"month":10,"date":7,"utc":true},{"year":2024,"month":11,"date":21,"utc":true},{"year":2025,"month":1,"date":6,"utc":true},{"year":2025,"month":2,"date":21,"utc":true},{"year":2025,"month":4,"date":7,"utc":true},{"year":2025,"month":5,"date":22,"utc":true},{"year":2025,"month":7,"date":6,"utc":true},{"year":2025,"month":8,"date":20,"utc":true},{"year":2025,"month":10,"date":4,"utc":true},{"year":2025,"month":11,"date":18,"utc":true},{"year":2026,"month":1,"date":2,"utc":true},{"year":2026,"month":2,"date":16,"utc":true},{"year":2026,"month":4,"date":2,"utc":true}]}},
  "y":{"field":"value","type":"quantitative","scale":{"domain":[0,100],"nice":false},
   "axis":{"orient":"right","title":null,"tickCount":60,"values":[93,70,30,7],"labelExpr":"datum.value > 90 ? '100' : (datum.value < 10 ? '0' : format(datum.value, 'd'))","grid":false,"tickSize":3,"domain":false,"labelPadding":3,"labelOverlap":false,"labelBound":false}}}},
{"data":{"name":"rsiline"},
 "mark":{"type":"rule","color":"#A0605C","strokeWidth":2},
 "encoding":{
  "x":{"field":"date","type":"temporal","title":null,"scale":{"type":"utc","domain":[{"year":2023,"month":2,"date":28,"hours":14,"utc":true},{"year":2026,"month":5,"date":13,"hours":17,"utc":true}]}},
  "x2":{"field":"date2"},
  "y":{"field":"value","type":"quantitative","title":null,"scale":{"domain":[0,100],"nice":false}},
  "y2":{"field":"value2"}}},
{"data":{"name":"rsiarrows"},
 "mark":{"type":"rule","color":"#FF4040","strokeWidth":1.3},
 "encoding":{
  "x":{"field":"date","type":"temporal","title":null,"scale":{"type":"utc","domain":[{"year":2023,"month":2,"date":28,"hours":14,"utc":true},{"year":2026,"month":5,"date":13,"hours":17,"utc":true}]}},
  "x2":{"field":"date2"},
  "y":{"field":"value","type":"quantitative","title":null,"scale":{"domain":[0,100],"nice":false}},
  "y2":{"field":"value2"}}},
{"data":{"name":"one"},
 "mark":{"type":"point","shape":"triangle-up","filled":true,"size":90,"angle":25,"color":"#FF4040","opacity":1},
 "encoding":{"x":{"datum":{"year":2025,"month":5,"date":29,"utc":true},"type":"temporal","scale":{"type":"utc","domain":[{"year":2023,"month":2,"date":28,"hours":14,"utc":true},{"year":2026,"month":5,"date":13,"hours":17,"utc":true}]}},
  "y":{"datum":58.5,"type":"quantitative","scale":{"domain":[0,100],"nice":false}}}},
{"data":{"name":"one"},
 "mark":{"type":"point","shape":"triangle-up","filled":true,"size":90,"angle":158,"color":"#FF4040","opacity":1},
 "encoding":{"x":{"datum":{"year":2025,"month":6,"date":20,"utc":true},"type":"temporal","scale":{"type":"utc","domain":[{"year":2023,"month":2,"date":28,"hours":14,"utc":true},{"year":2026,"month":5,"date":13,"hours":17,"utc":true}]}},
  "y":{"datum":27.5,"type":"quantitative","scale":{"domain":[0,100],"nice":false}}}},
{"data":{"name":"one"},
 "mark":{"type":"text","text":"RSI(13) 48.8295","font":"Liberation Sans","fontSize":9.5,"color":"#000000","align":"left","baseline":"alphabetic","dx":5},
 "encoding":{"x":{"datum":{"year":2023,"month":2,"date":28,"hours":14,"utc":true},"type":"temporal","scale":{"type":"utc","domain":[{"year":2023,"month":2,"date":28,"hours":14,"utc":true},{"year":2026,"month":5,"date":13,"hours":17,"utc":true}]}},
  "y":{"datum":87,"type":"quantitative","scale":{"domain":[0,100],"nice":false}}}}
]
}
]
}
